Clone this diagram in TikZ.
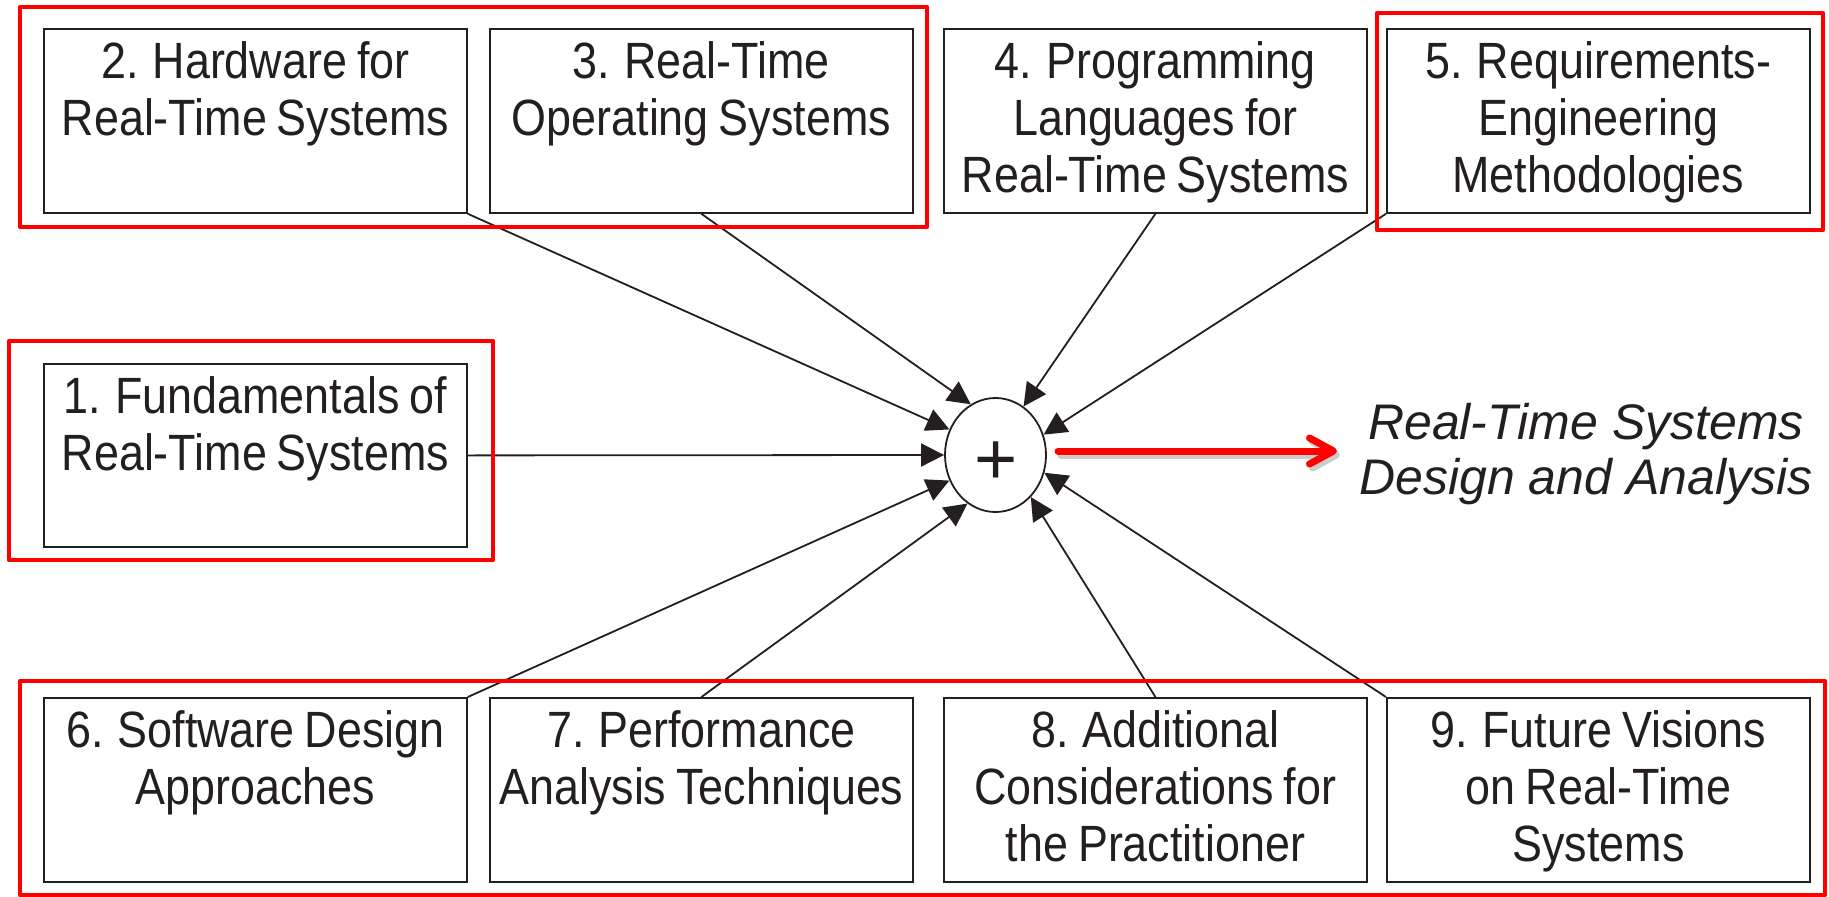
\documentclass[tikz,border=0pt]{standalone}
\usepackage{fontspec}
\setmainfont{Liberation Sans}
\newfontfamily\boxfont{Liberation Sans}[FakeStretch=0.88,WordSpace=0.8]
\usetikzlibrary{arrows.meta,shapes.geometric}
\definecolor{ink}{HTML}{231F20}
\definecolor{hilite}{HTML}{FF0000}

\begin{document}
\begin{tikzpicture}[x=1pt,y=-1pt,
  topic/.style={draw=ink, line width=1.8pt, fill=white, anchor=north west,
    minimum width=423pt, minimum height=184pt, inner sep=0pt},
  topictext/.style={anchor=north, inner sep=0pt, align=center, text=ink,
    font=\boxfont\fontsize{51}{57}\selectfont},
  feed/.style={draw=ink, line width=1.8pt, -{Triangle[length=23pt,width=23pt]}},
  group/.style={draw=hilite, line width=4.5pt, line join=round},
  result/.style={draw=hilite, line width=7pt, line cap=round,
    -{Straight Barb[length=24pt,width=26pt,round]}},
  resultshadow/.style={draw=black!20, line width=7pt, line cap=round,
    -{Straight Barb[length=24pt,width=26pt,round]}},
]
\useasboundingbox (0,0) rectangle (1829,897);

% chapter boxes, top row
\node[topic] (b2) at (43,28) {};
\node[topic] (b3) at (489,28) {};
\node[topic] (b4) at (943,28) {};
\node[topic] (b5) at (1386,28) {};
% middle left
\node[topic, minimum height=183pt] (b1) at (43,363) {};
% bottom row
\node[topic] (b6) at (43,697) {};
\node[topic] (b7) at (489,697) {};
\node[topic] (b8) at (943,697) {};
\node[topic] (b9) at (1386,697) {};

% box labels
\node[topictext] (t2) at ([yshift=-13pt]b2.north) {2. Hardware for\\Real-Time Systems};
\node[topictext] (t3) at ([yshift=-13pt]b3.north) {3. Real-Time\\Operating Systems};
\node[topictext] (t4) at ([yshift=-13pt]b4.north) {4. Programming\\Languages for\\Real-Time Systems};
\node[topictext] (t5) at ([yshift=-13pt]b5.north) {5. Requirements-\\Engineering\\Methodologies};
\node[topictext] (t1) at ([yshift=-13pt]b1.north) {1. Fundamentals of\\Real-Time Systems};
\node[topictext] (t6) at ([yshift=-13pt]b6.north) {6. Software Design\\Approaches};
\node[topictext] (t7) at ([yshift=-13pt]b7.north) {7. Performance\\Analysis Techniques};
\node[topictext] (t8) at ([yshift=-13pt]b8.north) {8. Additional\\Considerations for\\the Practitioner};
\node[topictext] (t9) at ([yshift=-13pt]b9.north) {9. Future Visions\\on Real-Time\\Systems};

% summing junction
\node[ellipse, draw=ink, line width=1.8pt, fill=white, minimum width=101pt,
  minimum height=114pt, inner sep=0pt] (sum) at (995.5,455) {};
\node[inner sep=0pt, text=ink, font=\fontsize{74}{74}\selectfont] (plus) at (996,463) {+};

% inputs into the junction
\draw[feed] (b1.east) -- (sum.180);
\draw[feed] (b2.south east) -- (sum.151);
\draw[feed] (b3.south) -- (sum.116);
\draw[feed] (b4.south) -- (sum.60);
\draw[feed] (b5.south west) -- (sum.23);
\draw[feed] (b6.north east) -- (sum.209);
\draw[feed] (b7.north) -- (sum.240);
\draw[feed] (b8.north) -- (sum.310);
\draw[feed] (b9.north west) -- (sum.340);

% outcome
\node[anchor=north, inner sep=0pt, align=center, text=ink,
  font=\itshape\fontsize{50}{55}\selectfont] (goal) at (1586,403.5)
  {Real-Time Systems\\Design and Analysis};
\coordinate (outS) at (1058,451);
\coordinate (outE) at (1337,451);
\coordinate (outSs) at (1061,455);
\coordinate (outEs) at (1340,455);
\draw[resultshadow] (outSs) -- (outEs);
\draw[result] (outS) -- (outE);

% red groupings
\draw[group] (20,7) rectangle (927,227);
\draw[group] (1377,13) rectangle (1823,230);
\draw[group] (9,341) rectangle (493,560);
\draw[group] (20,681) rectangle (1825,895);
\end{tikzpicture}
\end{document}
